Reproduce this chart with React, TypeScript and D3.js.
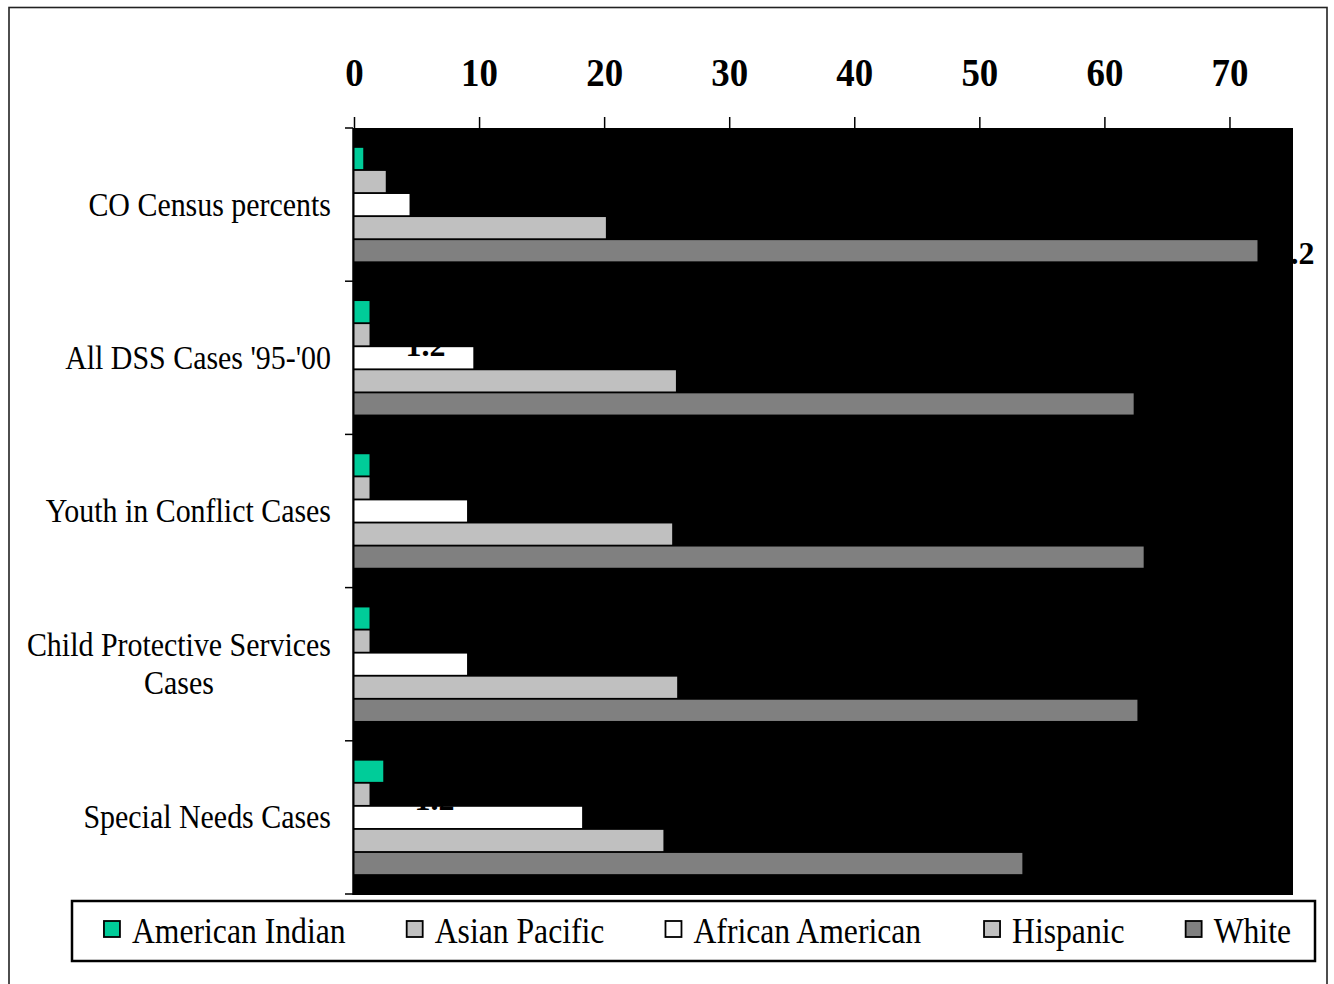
import React from "react";
import * as d3 from "d3";

const categories = [
  "CO Census percents",
  "All DSS Cases '95-'00",
  "Youth in Conflict Cases",
  "Child Protective Services Cases",
  "Special Needs Cases",
];
const seriesNames = ["American Indian", "Asian Pacific", "African American", "Hispanic", "White"];
const seriesColors = ["#00CC99", "#C0C0C0", "#FFFFFF", "#C0C0C0", "#808080"];

const americanIndian = [0.7, 1.2, 1.2, 1.2, 2.3];
const asianPacific = [2.5, 1.2, 1.2, 1.2, 1.2];
const africanAmerican = [4.4, 9.5, 9.0, 9.0, 18.2];
const hispanic = [20.1, 25.7, 25.4, 25.8, 24.7];
const white = [72.2, 62.3, 63.1, 62.6, 53.4];
const seriesValues = [americanIndian, asianPacific, africanAmerican, hispanic, white];

const xTicks = [0, 10, 20, 30, 40, 50, 60, 70];

// data labels that show through (black text, mostly hidden on the black plot area)
const shownLabels = [
  { cat: 0, ser: 4 },
  { cat: 1, ser: 1 },
  { cat: 4, ser: 1 },
];
const shownLabelOffsets = [
  { dx: 1, dy: 13 },
  { dx: 36, dy: 21 },
  { dx: 45, dy: 16 },
];

const FONT = "'Liberation Serif', 'Times New Roman', serif";

function measure(text: string, font: string): number {
  const c = document.createElement("canvas");
  const ctx = c.getContext("2d")!;
  ctx.font = font;
  return ctx.measureText(text).width;
}

function wrap(text: string, maxW: number, font: string, sx: number): string[] {
  const words = text.split(" ");
  const lines: string[] = [];
  let cur = "";
  for (const w of words) {
    const t = cur ? cur + " " + w : w;
    if (cur && measure(t, font) * sx > maxW) {
      lines.push(cur);
      cur = w;
    } else cur = t;
  }
  if (cur) lines.push(cur);
  return lines;
}

export default function App() {
  const W = 1334;
  const H = 984;
  const plot = { left: 353, right: 1293, top: 128, bottom: 895 };

  const x = d3.scaleLinear().domain([0, 75]).range([354.5, 1292.5]);
  const y = d3
    .scaleBand<string>()
    .domain(categories)
    .range([plot.top, 894])
    .padding(0);
  const sub = d3
    .scaleBand<string>()
    .domain(seriesNames)
    .range([0, y.bandwidth()])
    .paddingInner(0.08)
    .paddingOuter(0.86);

  const catSx = 0.88;
  const catFont = `34px ${FONT}`;
  const legSx = 0.88;
  const legFont = `36px ${FONT}`;

  // legend layout
  const legBox = { x: 72, y: 901, w: 1243, h: 60 };
  const sw = 16;
  const swGap = 28;
  const itemGap = 61;
  const textW = seriesNames.map((s) => measure(s, legFont) * legSx);
  const total = d3.sum(textW) + seriesNames.length * swGap + (seriesNames.length - 1) * itemGap;
  let cursor = legBox.x + legBox.w / 2 - total / 2 + 4;
  const legItems = seriesNames.map((s, i) => {
    const item = { s, i, x: cursor };
    cursor += swGap + textW[i] + itemGap;
    return item;
  });

  return (
    <svg
      width={W}
      height={H}
      style={{ position: "absolute", left: 0, top: 0, background: "#fff" }}
    >
      <rect x={9} y={7.5} width={1318} height={1000} fill="#fff" stroke="#222" strokeWidth={1.6} />

      {/* plot area */}
      <rect
        x={plot.left}
        y={plot.top}
        width={plot.right - plot.left}
        height={plot.bottom - plot.top}
        fill="#000"
      />

      {/* top axis */}
      {xTicks.map((t) => (
        <g key={t}>
          <line x1={x(t)} x2={x(t)} y1={117} y2={plot.top} stroke="#000" strokeWidth={1.5} />
          <text
            transform={`translate(${x(t)},86) scale(0.9,1)`}
            textAnchor="middle"
            fontFamily={FONT}
            fontWeight="bold"
            fontSize={41}
            fill="#000"
          >
            {t}
          </text>
        </g>
      ))}

      {/* left axis ticks */}
      <line x1={plot.left} x2={plot.left} y1={plot.top} y2={plot.bottom} stroke="#000" strokeWidth={1.5} />
      {[...categories.map((c) => y(c)!), 894].map((v, i) => (
        <line key={i} x1={345} x2={plot.left} y1={v} y2={v} stroke="#000" strokeWidth={1.5} />
      ))}

      {/* bars */}
      {categories.map((c, ci) => (
        <g key={c}>
          {seriesNames.map((s, si) => (
            <rect
              key={s}
              x={x(0)}
              y={y(c)! + sub(s)!}
              width={x(seriesValues[si][ci]) - x(0)}
              height={sub.bandwidth()}
              fill={seriesColors[si]}
            />
          ))}
        </g>
      ))}

      {/* data labels (black) */}
      {shownLabels.map((l, i) => {
        const v = seriesValues[l.ser][l.cat];
        const cy = y(categories[l.cat])! + sub(seriesNames[l.ser])! + sub.bandwidth() / 2;
        return (
          <text
            key={i}
            x={x(v) + shownLabelOffsets[i].dx}
            y={cy + shownLabelOffsets[i].dy}
            fontFamily={FONT}
            fontWeight="bold"
            fontSize={32}
            fill="#000"
          >
            {v.toFixed(1)}
          </text>
        );
      })}

      {/* category labels */}
      {categories.map((c) => {
        const lines = wrap(c, 320, catFont, catSx);
        const cy = y(c)! + y.bandwidth() / 2;
        const lh = 38;
        const blockW = d3.max(lines, (l) => measure(l, catFont) * catSx)!;
        const right = 331;
        const startBase = cy + 11 - ((lines.length - 1) * lh) / 2;
        return (
          <g key={c}>
            {lines.map((l, li) => {
              const isMulti = lines.length > 1;
              const ax = isMulti ? right - blockW / 2 : right;
              return (
                <text
                  key={li}
                  transform={`translate(${ax},${startBase + li * lh}) scale(${catSx},1)`}
                  textAnchor={isMulti ? "middle" : "end"}
                  fontFamily={FONT}
                  fontSize={34}
                  fill="#000"
                >
                  {l}
                </text>
              );
            })}
          </g>
        );
      })}

      {/* legend */}
      <rect
        x={legBox.x}
        y={legBox.y}
        width={legBox.w}
        height={legBox.h}
        fill="#fff"
        stroke="#000"
        strokeWidth={2.5}
      />
      {legItems.map((it) => (
        <g key={it.s}>
          <rect
            x={it.x}
            y={921}
            width={sw}
            height={sw}
            fill={seriesColors[it.i]}
            stroke="#000"
            strokeWidth={1.8}
          />
          <text
            transform={`translate(${it.x + swGap},943) scale(${legSx},1)`}
            fontFamily={FONT}
            fontSize={36}
            fill="#000"
          >
            {it.s}
          </text>
        </g>
      ))}
    </svg>
  );
}
